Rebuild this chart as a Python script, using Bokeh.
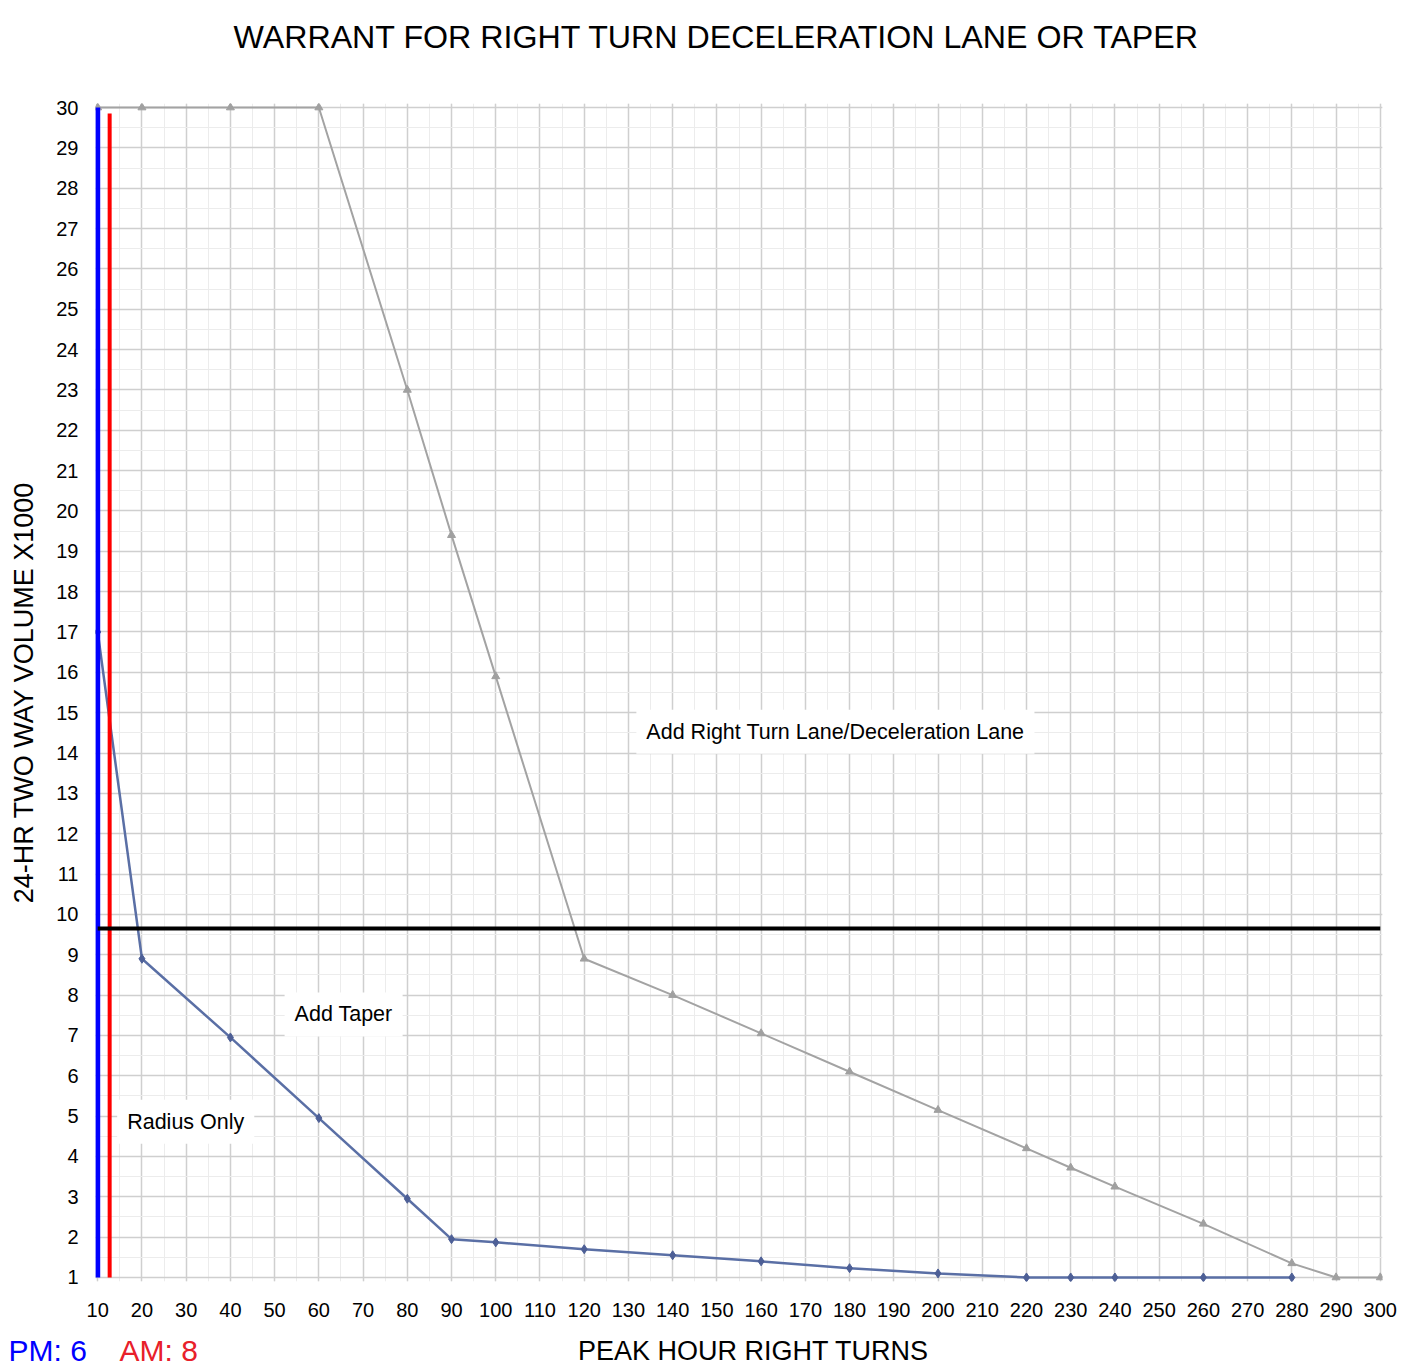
from bokeh.plotting import figure
from bokeh.layouts import column
from bokeh.models import Range1d, FixedTicker, Label
from bokeh.core.properties import value
from bokeh.embed import file_html
from bokeh.resources import INLINE

# ---- data ----
x_ticks = list(range(10, 301, 10))
y_ticks = list(range(1, 31))

# gray boundary: taper vs. right-turn lane
lane_x = [10, 20, 40, 60, 80, 90, 100, 120, 140, 160, 180, 200, 220, 230, 240, 260, 280, 290, 300]
lane_y = [30, 30, 30, 30, 23.0, 19.4, 15.9, 8.9, 8.0, 7.05, 6.1, 5.15, 4.2, 3.72, 3.25, 2.33, 1.35, 1.0, 1.0]

# blue boundary: radius only vs. taper
taper_x = [10, 20, 40, 60, 80, 90, 100, 120, 140, 160, 180, 200, 220, 230, 240, 260, 280]
taper_y = [17.0, 8.9, 6.95, 4.95, 2.95, 1.95, 1.87, 1.7, 1.55, 1.4, 1.23, 1.1, 1.0, 1.0, 1.0, 1.0, 1.0]

volume_line_y = 9.65          # black horizontal line (x1000 vehicles)
pm_line_x = 10.0              # blue vertical line position
am_line_x = 12.7              # red vertical line position
pm_label = "PM: 6"
am_label = "AM: 8"
x_title = "PEAK HOUR RIGHT TURNS"
y_title = "24-HR TWO WAY VOLUME X1000"
chart_title = "WARRANT FOR RIGHT TURN DECELERATION LANE OR TAPER"

font = "Liberation Sans"


def text_strip(height):
    s = figure(width=1422, height=height, output_backend="svg", toolbar_location=None,
               x_range=Range1d(0, 1422), y_range=Range1d(0, height),
               x_axis_type=None, y_axis_type=None, min_border=0)
    s.outline_line_color = None
    s.xgrid.visible = False
    s.ygrid.visible = False
    if "frame_align" in s.properties():
        s.frame_align = False
    return s


# top strip: chart title
top = text_strip(60)
top.text(x=[233], y=[24], text=[chart_title], text_align="left", text_baseline="middle",
         text_font=value(font), text_font_size="32.2px", text_color="black")

p = figure(width=1422, height=1270, output_backend="svg", toolbar_location=None,
           x_range=Range1d(9.5, 300.5), y_range=Range1d(0.9, 30.1),
           min_border_left=95, min_border_right=40, min_border_top=43, min_border_bottom=49)
p.outline_line_color = None
p.background_fill_color = "white"
if "frame_align" in p.properties():
    p.frame_align = False

p.xaxis.ticker = FixedTicker(ticks=x_ticks, minor_ticks=list(range(5, 301, 5)))
p.yaxis.ticker = FixedTicker(ticks=y_ticks, minor_ticks=[v / 2 for v in range(1, 61)])
for ax in (p.xaxis[0], p.yaxis[0]):
    ax.axis_line_color = None
    ax.major_tick_line_color = None
    ax.minor_tick_line_color = None
    ax.major_tick_out = 0
    ax.major_tick_in = 0
    ax.minor_tick_out = 0
    ax.minor_tick_in = 0
    ax.major_label_text_font = font
    ax.major_label_text_font_size = "20px"
    ax.major_label_text_color = "black"
    ax.axis_label_text_font = font
    ax.axis_label_text_font_size = "27px"
    ax.axis_label_text_font_style = "normal"
    ax.axis_label_text_color = "black"
p.yaxis.axis_label = y_title
p.xaxis.major_label_standoff = 21
p.yaxis.major_label_standoff = 17
p.yaxis.axis_label_standoff = 14

for g in (p.xgrid[0], p.ygrid[0]):
    g.grid_line_color = "#cfcfcf"
    g.grid_line_width = 1.5
    g.minor_grid_line_color = "#ececec"
    g.minor_grid_line_width = 1

# boundary curves
p.line(lane_x, lane_y, line_color="#a3a3a3", line_width=2)
p.scatter(lane_x, lane_y, marker="triangle", size=8, fill_color="#a0a0a0", line_color="#a0a0a0")
p.line(taper_x, taper_y, line_color="#5a6fa5", line_width=2.5)
p.scatter(taper_x, taper_y, marker="diamond", size=9, fill_color="#4d5f96", line_color="#4d5f96")

# reference lines
p.segment(x0=[pm_line_x], y0=[1], x1=[pm_line_x], y1=[30], line_color="#0000ff", line_width=5)
p.segment(x0=[am_line_x], y0=[1], x1=[am_line_x], y1=[29.85], line_color="#ff0000", line_width=4)
p.segment(x0=[pm_line_x], y0=[volume_line_y], x1=[300], y1=[volume_line_y], line_color="black", line_width=4)

# region labels
for txt, x, y in [("Add Right Turn Lane/Deceleration Lane", 176.8, 14.53),
                  ("Add Taper", 65.6, 7.52),
                  ("Radius Only", 29.9, 4.86)]:
    p.add_layout(Label(x=x, y=y, text=txt, text_align="center", text_baseline="middle",
                       text_font=font, text_font_size="21.5px", text_color="black",
                       background_fill_color="white", padding=10))

# bottom strip: PM / AM notes and the x-axis title
bottom = text_strip(36)
bottom.text(x=[8], y=[16], text=[pm_label], text_align="left", text_baseline="middle",
            text_font=value(font), text_font_size="30px", text_color="#0000ff")
bottom.text(x=[119], y=[16], text=[am_label], text_align="left", text_baseline="middle",
            text_font=value(font), text_font_size="30px", text_color="#e8202a")
bottom.text(x=[753], y=[16], text=[x_title], text_align="center", text_baseline="middle",
            text_font=value(font), text_font_size="27px", text_color="black")

layout = column(top, p, bottom, spacing=0)
open("out.html", "w").write(file_html(layout, INLINE))
